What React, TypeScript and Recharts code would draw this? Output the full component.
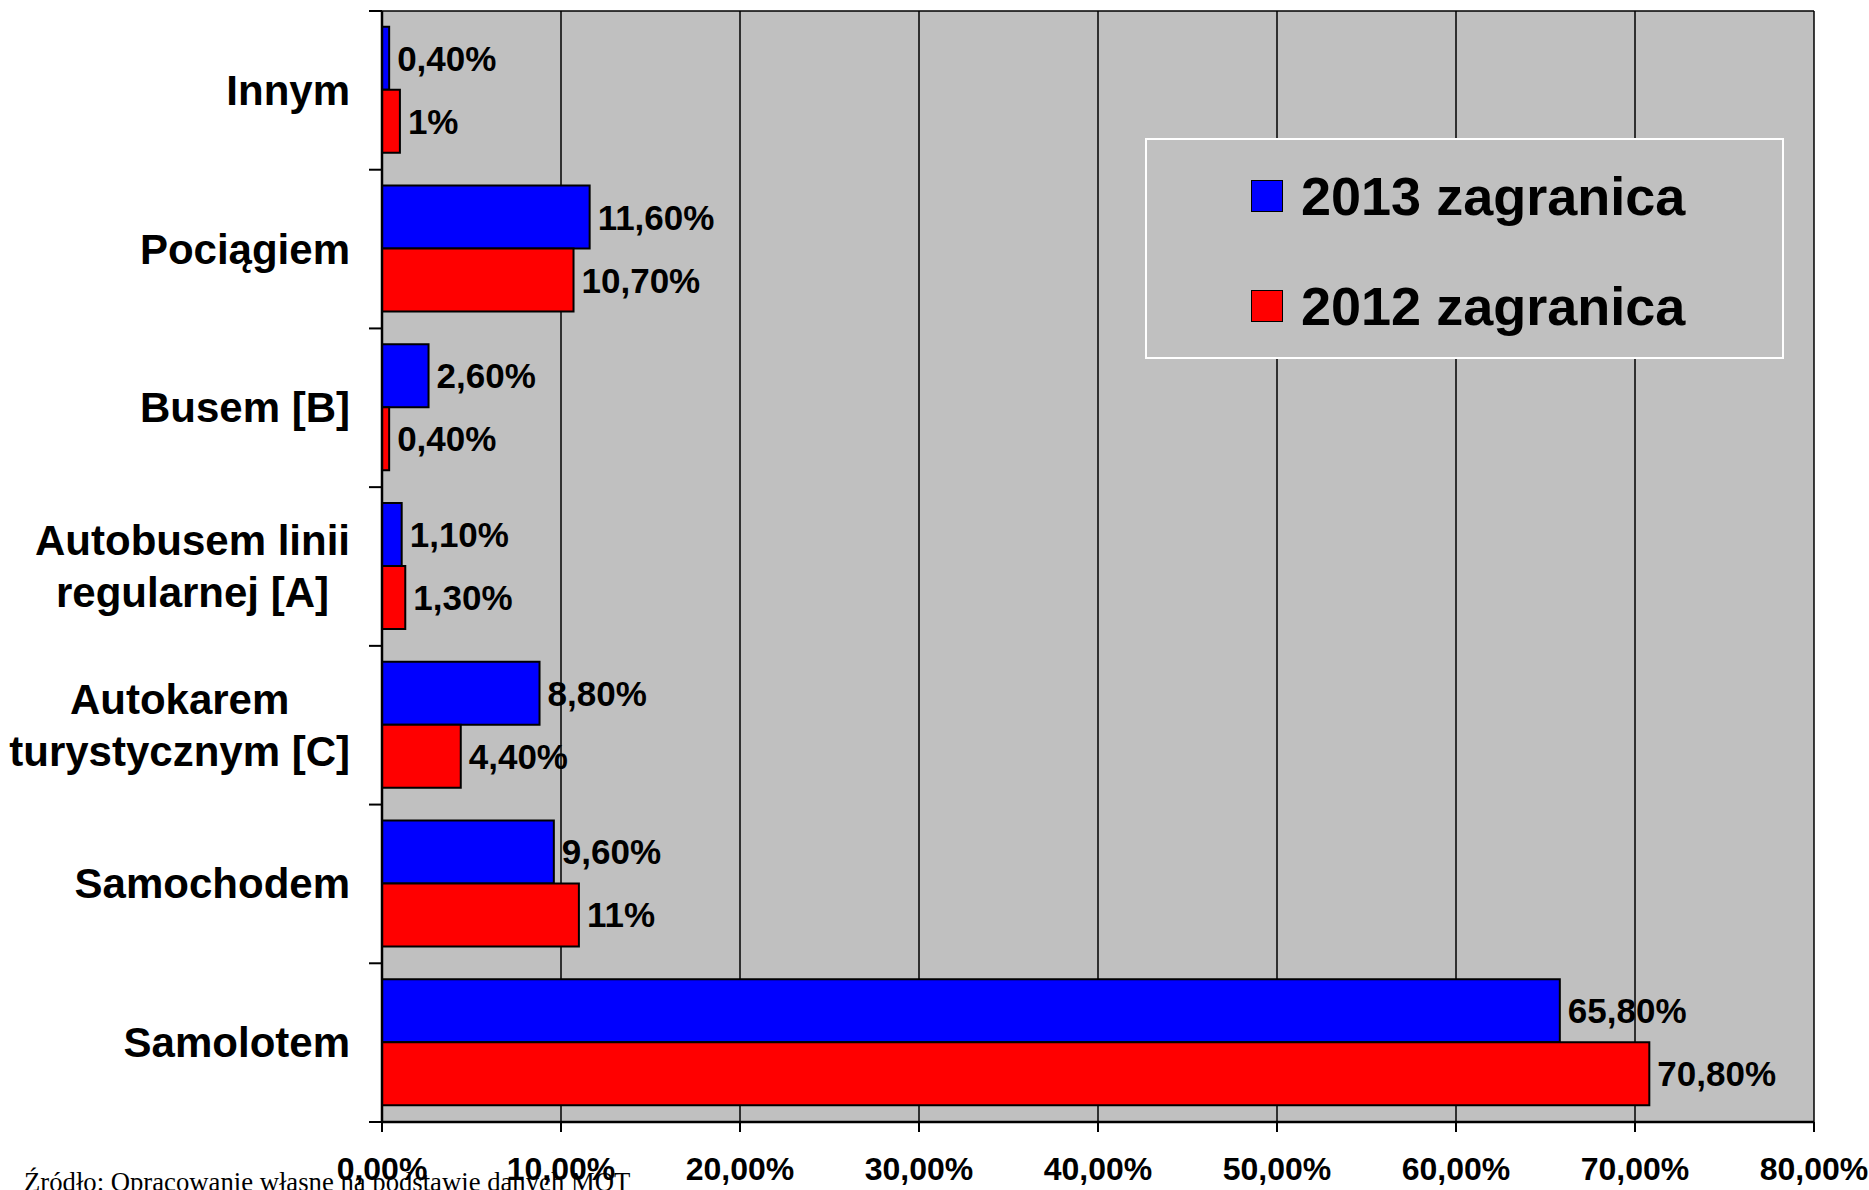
import React from 'react';
import { BarChart, Bar, XAxis, YAxis, CartesianGrid, LabelList, Legend } from 'recharts';

const categories = [
  'Innym',
  'Pociągiem',
  'Busem [B]',
  'Autobusem linii\nregularnej [A]',
  'Autokarem\nturystycznym [C]',
  'Samochodem',
  'Samolotem',
];
const values2013 = [0.4, 11.6, 2.6, 1.1, 8.8, 9.6, 65.8];
const values2012 = [1, 10.7, 0.4, 1.3, 4.4, 11, 70.8];
const labels2013 = ['0,40%', '11,60%', '2,60%', '1,10%', '8,80%', '9,60%', '65,80%'];
const labels2012 = ['1%', '10,70%', '0,40%', '1,30%', '4,40%', '11%', '70,80%'];
const xTicks = [0, 10, 20, 30, 40, 50, 60, 70, 80];
const seriesNames = ['2013 zagranica', '2012 zagranica'];
const sourceNote = 'Źródło: Opracowanie własne na podstawie danych MOT';

const data = categories.map((c, i) => ({
  category: c,
  v2013: values2013[i],
  v2012: values2012[i],
  l2013: labels2013[i],
  l2012: labels2012[i],
}));

const FONT = '"Liberation Sans", Arial, Helvetica, sans-serif';
const W = 1869;
const H = 1190;
const MARGIN = { top: 11, right: 55, left: 0, bottom: 0 };
const Y_W = 382;
const X_H = 68;
const PLOT_H = H - MARGIN.top - MARGIN.bottom - X_H;
const BAND = PLOT_H / categories.length;

let measureCtx: CanvasRenderingContext2D | null = null;
function measure(t: string, font: string): number {
  if (!measureCtx) measureCtx = document.createElement('canvas').getContext('2d');
  if (!measureCtx) return t.length * 20;
  measureCtx.font = font;
  return measureCtx.measureText(t).width;
}

const CategoryTick = (props: any) => {
  const { y, payload } = props;
  const value = String(payload.value);
  const lines = value.split('\n');
  const fs = 42;
  const lh = 52;
  const maxW = Math.max(...lines.map((l) => measure(l, `bold ${fs}px "Liberation Sans"`)));
  const cx = Y_W - 32 - maxW / 2;
  const isLast = value === categories[categories.length - 1];
  return (
    <g>
      <line x1={Y_W - 13} x2={Y_W} y1={y - BAND / 2} y2={y - BAND / 2} stroke="#000" strokeWidth={2} />
      {isLast && (
        <line x1={Y_W - 13} x2={Y_W} y1={y + BAND / 2} y2={y + BAND / 2} stroke="#000" strokeWidth={2} />
      )}
      <text textAnchor="middle" fontFamily={FONT} fontSize={fs} fontWeight="bold" fill="#000">
        {lines.map((l, i) => (
          <tspan key={i} x={cx} y={y + 0.345 * fs + (i - (lines.length - 1) / 2) * lh}>
            {l}
          </tspan>
        ))}
      </text>
    </g>
  );
};

const renderLegend = (props: any) => {
  const payload = [...(props.payload || [])].sort(
    (a: any, b: any) => seriesNames.indexOf(a.value) - seriesNames.indexOf(b.value)
  );
  return (
    <div
      style={{
        width: 639,
        height: 221,
        boxSizing: 'border-box',
        border: '2px solid #fff',
        background: '#C0C0C0',
        position: 'relative',
      }}
    >
      {payload.map((p: any, i: number) => (
        <React.Fragment key={i}>
          <div
            style={{
              position: 'absolute',
              left: 104,
              top: 40 + i * 110,
              width: 32,
              height: 32,
              boxSizing: 'border-box',
              background: p.color,
              border: '1.5px solid #000',
            }}
          />
          <div
            style={{
              position: 'absolute',
              left: 154,
              top: 36 + i * 110,
              height: 40,
              lineHeight: '40px',
              fontFamily: FONT,
              fontSize: 54,
              fontWeight: 'bold',
              color: '#000',
              whiteSpace: 'nowrap',
            }}
          >
            {p.value}
          </div>
        </React.Fragment>
      ))}
    </div>
  );
};

export default function App() {
  return (
    <div
      style={{
        position: 'absolute',
        left: 0,
        top: 0,
        width: W,
        height: H,
        overflow: 'hidden',
        background: '#fff',
      }}
    >
      <BarChart
        width={W}
        height={H}
        data={data}
        layout="vertical"
        margin={MARGIN}
        barCategoryGap="10%"
        barGap={0}
      >
        <CartesianGrid
          horizontal={true}
          horizontalPoints={[MARGIN.top]}
          vertical={true}
          stroke="#000"
          strokeWidth={1.5}
          fill="#C0C0C0"
          fillOpacity={1}
        />
        <XAxis
          type="number"
          domain={[0, 80]}
          ticks={xTicks}
          interval={0}
          height={X_H}
          tickFormatter={(v: number) => `${v},00%`}
          axisLine={{ stroke: '#000', strokeWidth: 2.5 }}
          tickLine={{ stroke: '#000', strokeWidth: 2 }}
          tickSize={10}
          tickMargin={25}
          tick={{ fill: '#000', fontSize: 32, fontWeight: 'bold', fontFamily: FONT }}
        />
        <YAxis
          type="category"
          dataKey="category"
          width={Y_W}
          interval={0}
          axisLine={{ stroke: '#000', strokeWidth: 2.5 }}
          tickLine={false}
          tick={<CategoryTick />}
        />
        <Legend
          layout="horizontal"
          verticalAlign="middle"
          align="center"
          content={renderLegend}
          wrapperStyle={{ left: 1145, top: 138, width: 639, height: 221 }}
        />
        <Bar
          dataKey="v2013"
          name={seriesNames[0]}
          fill="#0000FF"
          stroke="#000"
          strokeWidth={2}
          isAnimationActive={false}
        >
          <LabelList
            dataKey="l2013"
            position="right"
            offset={8}
            fill="#000"
            style={{ fontSize: 35, fontWeight: 'bold', fontFamily: FONT, fill: '#000' }}
          />
        </Bar>
        <Bar
          dataKey="v2012"
          name={seriesNames[1]}
          fill="#FF0000"
          stroke="#000"
          strokeWidth={2}
          isAnimationActive={false}
        >
          <LabelList
            dataKey="l2012"
            position="right"
            offset={8}
            fill="#000"
            style={{ fontSize: 35, fontWeight: 'bold', fontFamily: FONT, fill: '#000' }}
          />
        </Bar>
      </BarChart>
      <div
        style={{
          position: 'absolute',
          left: 24,
          top: 1169,
          lineHeight: '27px',
          fontFamily: '"Liberation Serif", "Times New Roman", serif',
          fontSize: 26.7,
          color: '#000',
          whiteSpace: 'nowrap',
        }}
      >
        {sourceNote}
      </div>
    </div>
  );
}
